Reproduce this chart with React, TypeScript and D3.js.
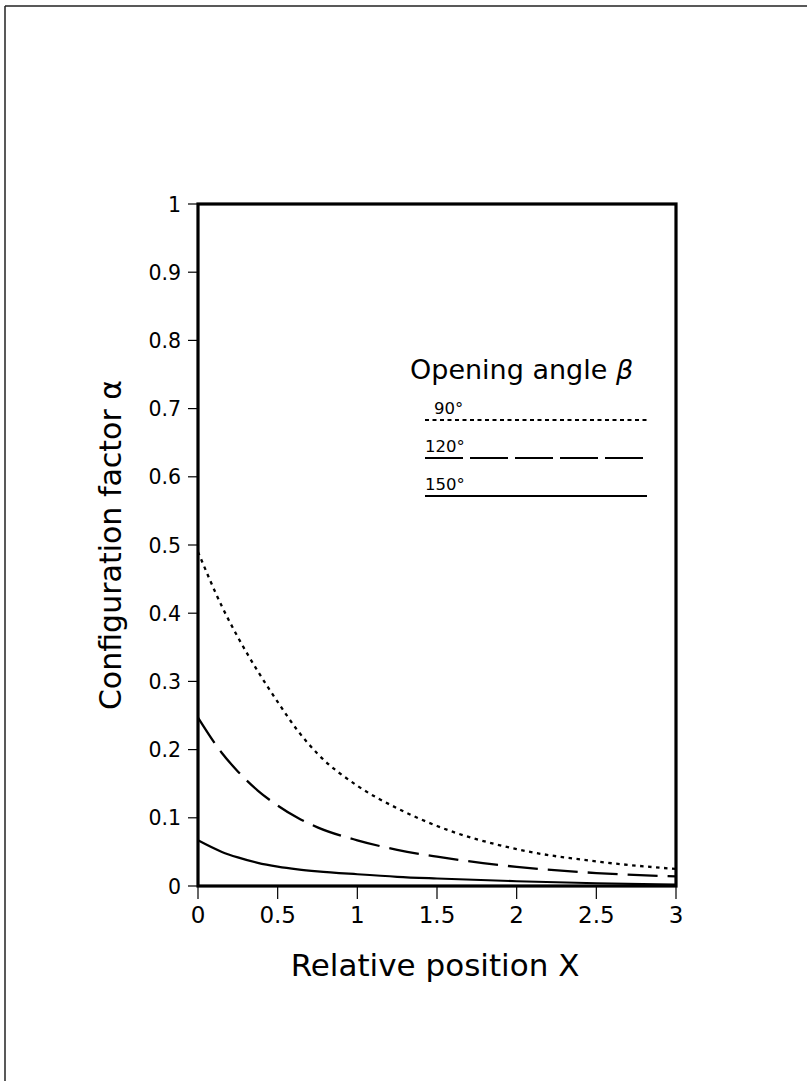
import React from "react";
import * as d3 from "d3";

const xs = [0, 0.15, 0.25, 0.375, 0.5, 0.625, 0.75, 1, 1.25, 1.5, 2, 2.5, 3];
const beta90 = [0.49, 0.41, 0.365, 0.315, 0.27, 0.228, 0.194, 0.147, 0.114, 0.088, 0.054, 0.036, 0.025];
const beta120 = [0.247, 0.195, 0.168, 0.14, 0.118, 0.1, 0.086, 0.067, 0.053, 0.043, 0.028, 0.019, 0.014];
const beta150 = [0.067, 0.05, 0.042, 0.034, 0.0285, 0.0245, 0.0215, 0.0172, 0.0135, 0.011, 0.007, 0.004, 0.002];
const xTicks = [0, 0.5, 1, 1.5, 2, 2.5, 3];
const yTicks = [0, 0.1, 0.2, 0.3, 0.4, 0.5, 0.6, 0.7, 0.8, 0.9, 1];
const legendLabels = ["90°", "120°", "150°"];

const W = 807;
const H = 1081;
const FONT = "'DejaVu Sans', sans-serif";

export default function App() {
  const x = d3.scaleLinear().domain([0, 3]).range([198, 676]);
  const y = d3.scaleLinear().domain([0, 1]).range([886, 204]);
  const line = (vals: number[]) =>
    d3
      .line<number>()
      .x((_, i) => x(xs[i]))
      .y((v) => y(v))
      .curve(d3.curveMonotoneX)(vals) || "";

  const series = [
    { vals: beta90, dash: "3.5,4.5", w: 2.3 },
    { vals: beta120, dash: "30,10", w: 2.3 },
    { vals: beta150, dash: "", w: 2.2 },
  ];
  const legendDash = ["4,3.5", "38,7", ""];
  const legendY = [420, 458, 496];

  return (
    <svg
      width={W}
      height={H}
      style={{ position: "absolute", left: 0, top: 0, background: "#fff" }}
      fontFamily={FONT}
    >
      {/* page frame */}
      <line x1={5} y1={6} x2={W} y2={6} stroke="#222" strokeWidth={1.5} />
      <line x1={5} y1={6} x2={5} y2={H} stroke="#222" strokeWidth={1.5} />

      {/* curves */}
      {series.map((s, i) => (
        <path
          key={i}
          d={line(s.vals)}
          fill="none"
          stroke="#000"
          strokeWidth={s.w}
          strokeDasharray={s.dash || undefined}
        />
      ))}

      {/* y ticks */}
      {yTicks.map((t) => (
        <g key={"y" + t}>
          <line x1={188} x2={198} y1={y(t)} y2={y(t)} stroke="#000" strokeWidth={1.2} />
          <text x={181} y={y(t) + 7.5} fontSize={20.5} textAnchor="end" fill="#000">
            {d3.format("")(t)}
          </text>
        </g>
      ))}
      {/* x ticks */}
      {xTicks.map((t) => (
        <g key={"x" + t}>
          <line x1={x(t)} x2={x(t)} y1={886} y2={899} stroke="#000" strokeWidth={1.2} />
          <text x={x(t)} y={923} fontSize={23} textAnchor="middle" fill="#000">
            {d3.format("")(t)}
          </text>
        </g>
      ))}

      {/* frame */}
      <rect
        x={x(0)}
        y={y(1)}
        width={x(3) - x(0)}
        height={y(0) - y(1)}
        fill="none"
        stroke="#000"
        strokeWidth={3.2}
      />

      {/* axis titles */}
      <text x={435} y={976} fontSize={31} textAnchor="middle" fill="#000">
        Relative position X
      </text>
      <text
        transform={`translate(121,545) rotate(-90)`}
        fontSize={30}
        textAnchor="middle"
        fill="#000"
      >
        Configuration factor α
      </text>

      {/* legend */}
      <text x={410} y={379} fontSize={27} fill="#000">
        Opening angle <tspan fontStyle="italic">β</tspan>
      </text>
      {legendLabels.map((lab, i) => (
        <g key={lab}>
          <text x={i === 0 ? 434 : 425} y={legendY[i] - 6} fontSize={16.5} fill="#000">
            {lab}
          </text>
          <line
            x1={425}
            x2={647}
            y1={legendY[i]}
            y2={legendY[i]}
            stroke="#000"
            strokeWidth={2}
            strokeDasharray={legendDash[i] || undefined}
          />
        </g>
      ))}
    </svg>
  );
}
